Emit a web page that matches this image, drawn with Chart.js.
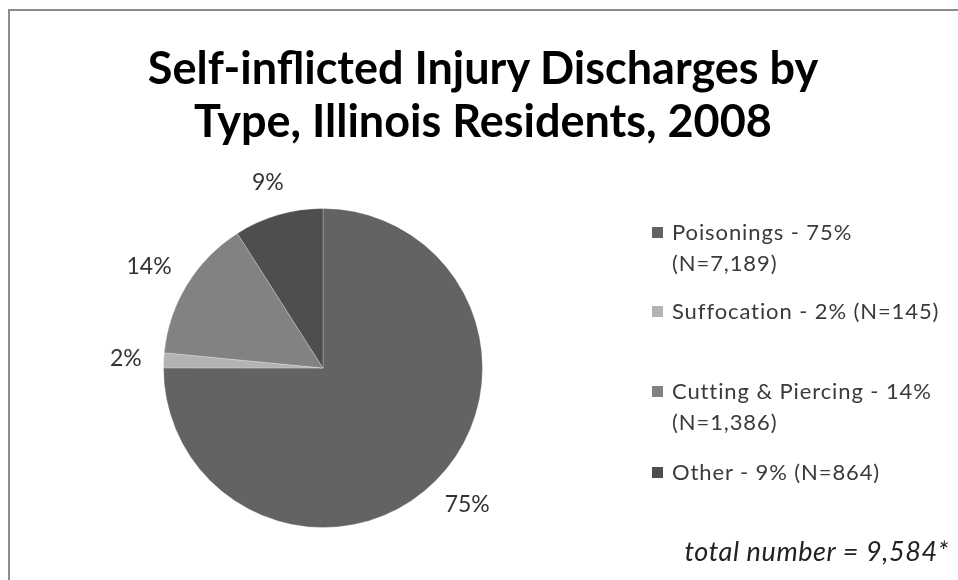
<!DOCTYPE html>
<html>
<head>
<meta charset="utf-8">
<script src="https://cdn.jsdelivr.net/npm/chart.js@4"></script>
<style>
  html, body { margin: 0; padding: 0; background: #fff; overflow: hidden; }
  #wrap { position: relative; width: 958px; height: 580px; }
  #frame { position: absolute; left: 8px; top: 9px; width: 980px; height: 600px;
           border: 2px solid #8c8c8c; box-sizing: border-box; }
  #chart { position: absolute; left: 0; top: 0; }
  #title { position: absolute; left: 0; width: 966px; top: 41px; text-align: center;
           font-family: Lato, "Open Sans", sans-serif; font-weight: bold; font-size: 45px;
           line-height: 53px; color: #000; }
  .leg { position: absolute; left: 652px; font-family: Lato, "Open Sans", sans-serif;
         font-size: 22px; line-height: 31px; color: #3a3a3a; letter-spacing: 0.9px; }
  .leg i { display: inline-block; width: 11px; height: 11px; margin-right: 9px; vertical-align: 2px; }
  #note { position: absolute; right: 9px; top: 534px; font-family: Lato, "Open Sans", sans-serif;
          font-style: italic; font-size: 27px; color: #222; letter-spacing: 0.6px; }
</style>
</head>
<body>
<div id="wrap">
  <div id="frame"></div>
  <canvas id="chart" width="958" height="580"></canvas>
  <div id="title">Self-inflicted Injury Discharges by<br>Type, Illinois Residents, 2008</div>
  <div id="legend"></div>
  <div id="note">total number = 9,584*</div>
</div>
<script>
// data
const categories = ["Poisonings", "Suffocation", "Cutting & Piercing", "Other"];
const counts = [7189, 145, 1386, 864];
const percents = [75, 2, 14, 9];
const colors = ["#636363", "#b3b3b3", "#828282", "#4e4e4e"];

// legend text lines (wrapped as in the original)
const legendLines = [
  ["Poisonings - 75%", "(N=7,189)"],
  ["Suffocation - 2% (N=145)"],
  ["Cutting & Piercing - 14%", "(N=1,386)"],
  ["Other - 9% (N=864)"]
];
const legendTops = [216, 295, 375, 456];

const legendDiv = document.getElementById('legend');
legendLines.forEach((lines, i) => {
  const d = document.createElement('div');
  d.className = 'leg';
  d.style.top = legendTops[i] + 'px';
  d.innerHTML = '<i style="background:' + colors[i] + '"></i>' + lines[0] +
    (lines[1] ? '<br><span style="margin-left:20px">' + lines[1] + '</span>' : '');
  legendDiv.appendChild(d);
});

// percent labels just outside the slices
const outLabels = {
  id: 'outLabels',
  afterDatasetsDraw(chart) {
    const ctx = chart.ctx;
    const meta = chart.getDatasetMeta(0);
    ctx.save();
    ctx.font = '23px Lato, "Open Sans", sans-serif';
    ctx.fillStyle = '#333';
    ctx.textAlign = 'center';
    ctx.textBaseline = 'middle';
    meta.data.forEach((arc, i) => {
      const p = arc.getProps(['x', 'y', 'startAngle', 'endAngle', 'outerRadius'], true);
      const mid = (p.startAngle + p.endAngle) / 2;
      const txt = percents[i] + '%';
      const w = ctx.measureText(txt).width;
      const r = p.outerRadius + 22;
      const cx = Math.cos(mid), cy = Math.sin(mid);
      ctx.fillText(txt, p.x + cx * r + cx * w / 2, p.y + cy * r + cy * 12);
    });
    ctx.restore();
  }
};

new Chart(document.getElementById('chart'), {
  type: 'pie',
  data: {
    labels: categories,
    datasets: [{
      data: counts,
      backgroundColor: colors,
      borderColor: 'rgba(255,255,255,0.25)',
      borderWidth: 1
    }]
  },
  options: {
    responsive: false,
    animation: false,
    layout: { padding: { left: 163, right: 475, top: 208, bottom: 52 } },
    plugins: { legend: { display: false }, tooltip: { enabled: false } }
  },
  plugins: [outLabels]
});
</script>
</body>
</html>
